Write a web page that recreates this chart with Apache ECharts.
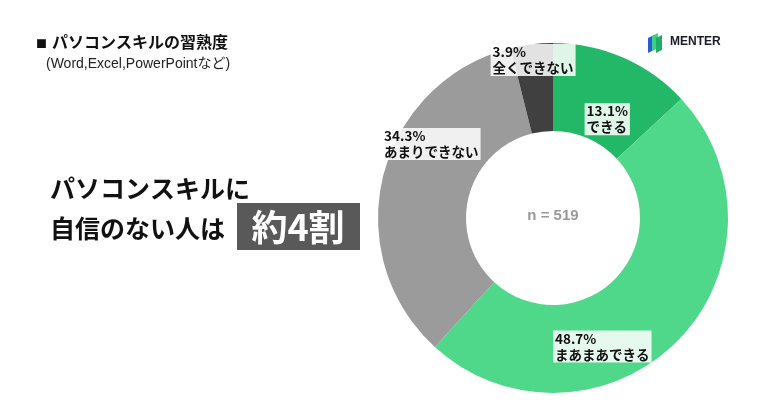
<!DOCTYPE html>
<html><head><meta charset="utf-8">
<script src="https://cdn.jsdelivr.net/npm/echarts@6/dist/echarts.min.js"></script>
<style>html,body{margin:0;padding:0;background:#fff}#c{width:780px;height:409px}</style>
</head><body><div id="c"></div>
<script>
const categories = ['できる', 'まあまあできる', 'あまりできない', '全くできない'];
const values = [13.1, 48.7, 34.3, 3.9];
const sampleSize = 519;
const colors = ['#22b867', '#4fd88a', '#9b9b9b', '#404040'];
// label nudges (box left/top relative to default inside anchor)
const labelNudge = [[-22, 8], [-95, 18], [-41, -57], [-46, -41]];

const FONT = '"Noto Sans CJK JP", "Noto Sans", sans-serif';
const chart = echarts.init(document.getElementById('c'), null, {renderer: 'canvas'});
chart.setOption({
  backgroundColor: '#ffffff',
  animation: false,
  graphic: [
    {type: 'text', left: 36, top: 38, style: {text: '■', font: 'bold 11px ' + FONT, fill: '#111'}},
    {type: 'text', left: 52, top: 34, style: {text: 'パソコンスキルの習熟度', font: 'bold 16px ' + FONT, fill: '#111'}},
    {type: 'text', left: 46, top: 57, style: {text: '(Word,Excel,PowerPointなど)', font: '14px "Liberation Sans", ' + FONT, fill: '#222'}},
    {type: 'text', left: 50, top: 176, style: {text: 'パソコンスキルに', font: 'bold 25px ' + FONT, fill: '#111'}},
    {type: 'text', left: 50, top: 216, style: {text: '自信のない人は', font: 'bold 25px ' + FONT, fill: '#111'}},
    {type: 'rect', shape: {x: 237, y: 203, width: 123, height: 47}, style: {fill: '#595959'}},
    {type: 'text', x: 298, y: 227, style: {text: '約4割', font: 'bold 36px ' + FONT, fill: '#fff', align: 'center', verticalAlign: 'middle'}},
    {type: 'text', x: 553, y: 216, style: {text: 'n = ' + sampleSize, font: 'bold 15px "Liberation Sans", ' + FONT, fill: '#999', align: 'center', verticalAlign: 'middle'}},
    {type: 'polygon', shape: {points: [[648, 38], [654, 35], [654, 50], [648, 53]]}, style: {fill: '#2a5bd7'}},
    {type: 'polygon', shape: {points: [[652, 36], [658, 33], [658, 48], [652, 51]]}, style: {fill: '#3ccf86'}},
    {type: 'polygon', shape: {points: [[656, 38], [662, 35], [662, 50], [656, 53]]}, style: {fill: '#1fae63'}},
    {type: 'text', left: 670, top: 36, style: {text: 'MENTER', font: 'bold 12px "Liberation Sans", sans-serif', fill: '#1a1a2a'}}
  ],
  series: [{
    type: 'pie',
    center: [553, 218],
    radius: [87, 175],
    startAngle: 90,
    clockwise: true,
    silent: true,
    itemStyle: {borderWidth: 0},
    label: {
      show: true,
      position: 'inside',
      formatter: p => p.value.toFixed(1) + '%\n' + p.name,
      color: '#111',
      fontFamily: FONT,
      fontWeight: 'bold',
      fontSize: 13.5,
      lineHeight: 16,
      backgroundColor: 'rgba(255,255,255,0.85)',
      padding: [0, 2, 0, 2]
    },
    labelLine: {show: false},
    labelLayout: function (params) {
      const r = params.labelRect;
      const n = labelNudge[params.dataIndex];
      return {
        x: r.x + r.width / 2 + n[0],
        y: r.y + r.height / 2 + n[1],
        align: 'left',
        verticalAlign: 'top'
      };
    },
    data: categories.map((c, i) => ({name: c, value: values[i], itemStyle: {color: colors[i]}}))
  }]
});
</script></body></html>
